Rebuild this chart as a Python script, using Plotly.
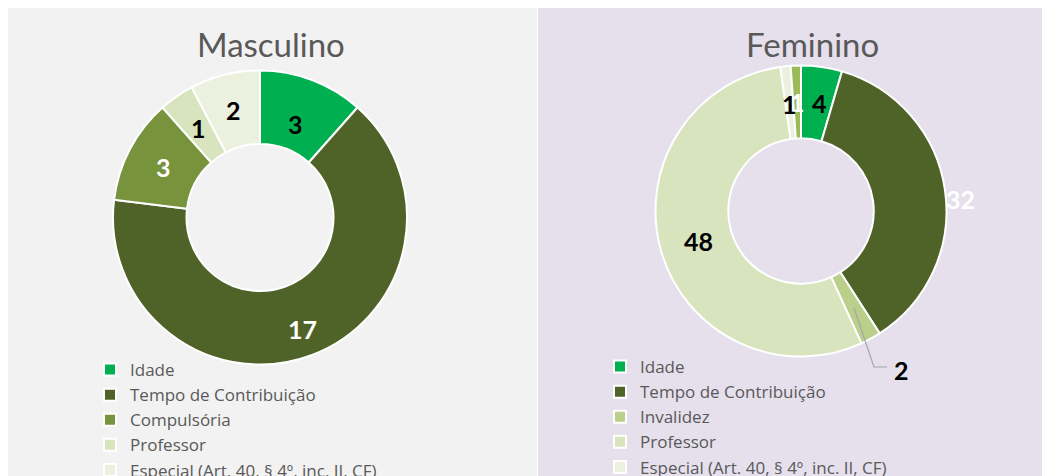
import math
import plotly.graph_objects as go

W, H = 1050, 476
OFF = 8  # page offset of the figure inside the browser window

# ---- data ----
masc_labels = ["Idade", "Tempo de Contribuição", "Compulsória", "Professor",
               "Especial (Art. 40, § 4º, inc. II, CF)"]
masc_values = [3, 17, 3, 1, 2]

fem_labels = ["Idade", "Tempo de Contribuição", "Invalidez", "Professor",
              "Especial (Art. 40, § 4º, inc. II, CF)", "Compulsória"]
fem_values = [4, 32, 2, 48, 1, 1]

# ---- style ----
masc_colors = ["#00b050", "#4f6228", "#77933c", "#d7e4bd", "#ebf1de"]
masc_text_colors = ["black", "white", "white", "black", "black"]
masc_label_r = [0.68, 0.81, 0.74, 0.74, 0.75]

fem_colors = ["#00b050", "#4f6228", "#b9cf8a", "#d7e4bd", "#ebf1de", "#9bbb59"]
fem_text_colors = ["black", "white", "black", "black", "black", "white"]
fem_label_r = [0.75, 1.10, None, 0.735, 0.74, 0.75]
fem_label_da = [1.5, 4.0, 0, 0, 0, 0]  # small angular nudges (degrees)

FONT = "Lato"
LEG_FONT = "Open Sans"
GREY = "#595959"

M_CX, M_CY, M_R = 260, 217.5, 147
F_CX, F_CY, F_R = 801, 211, 145.5


def px(X):
    return (X - OFF) / W


def py(Y):
    return 1 - (Y - OFF) / H


def domain(cx, cy, r):
    return dict(x=[px(cx - r), px(cx + r)], y=[py(cy + r), py(cy - r)])


def mid_angles(values):
    tot = sum(values)
    cum = 0
    out = []
    for v in values:
        out.append((cum + v / 2) / tot * 2 * math.pi)
        cum += v
    return out


def polar(cx, cy, rr, a):
    return cx + rr * math.sin(a), cy - rr * math.cos(a)


# make legend entries of the second pie distinct from the first one
fem_legend_labels = [lab + "\u200b" for lab in fem_labels]

fig = go.Figure()

fig.add_trace(go.Pie(
    labels=masc_labels, values=masc_values, hole=0.5, sort=False,
    direction="clockwise", rotation=0, textinfo="none", hoverinfo="label+value",
    marker=dict(colors=masc_colors, line=dict(color="white", width=2)),
    domain=domain(M_CX, M_CY, M_R), legend="legend", showlegend=True,
))
fig.add_trace(go.Pie(
    labels=fem_legend_labels, values=fem_values, hole=0.5, sort=False,
    direction="clockwise", rotation=0, textinfo="none", hoverinfo="label+value",
    marker=dict(colors=fem_colors, line=dict(color="white", width=2)),
    domain=domain(F_CX, F_CY, F_R), legend="legend2", showlegend=True,
))

annotations = []
label_font = dict(family=FONT, size=25)


def add_label(X, Y, text, color):
    annotations.append(dict(x=px(X), y=py(Y), xref="paper", yref="paper", text=text,
                            showarrow=False, xanchor="center", yanchor="middle",
                            font=dict(label_font, color=color)))


for v, a, c, f in zip(masc_values, mid_angles(masc_values), masc_text_colors, masc_label_r):
    X, Y = polar(M_CX, M_CY, M_R * f, a)
    add_label(X, Y, f"<b>{v}</b>", c)

fem_mids = mid_angles(fem_values)
for i in [5, 0, 1, 3, 4]:
    a = fem_mids[i] + math.radians(fem_label_da[i])
    X, Y = polar(F_CX, F_CY, F_R * fem_label_r[i], a)
    add_label(X, Y, f"<b>{fem_values[i]}</b>", fem_text_colors[i])

# leader-line label for the small "Invalidez" slice
sX, sY = polar(F_CX, F_CY, F_R * 0.76, fem_mids[2])
bX, bY = sX + 20, 367
eX, eY = bX + 13, bY
path = f"M {px(sX)},{py(sY)} L {px(bX)},{py(bY)} L {px(eX)},{py(eY)}"
add_label(eX + 15, 370, f"<b>{fem_values[2]}</b>", "black")

shapes = [
    dict(type="rect", xref="paper", yref="paper", x0=px(8), x1=px(537), y0=0, y1=py(8),
         fillcolor="#f2f2f2", line=dict(width=0), layer="below"),
    dict(type="rect", xref="paper", yref="paper", x0=px(538), x1=1, y0=0, y1=py(8),
         fillcolor="#e5e0ec", line=dict(width=0), layer="below"),
    dict(type="path", xref="paper", yref="paper", path=path,
         line=dict(color="#a6a6a6", width=1.2), layer="above"),
]

# titles
for X, t in [(271, "Masculino"), (812, "Feminino")]:
    annotations.append(dict(x=px(X), y=py(44), xref="paper", yref="paper", text=t,
                            showarrow=False, xanchor="center", yanchor="middle",
                            font=dict(family=FONT, size=33, color=GREY)))

legend_common = dict(font=dict(family=LEG_FONT, size=17, color=GREY), bgcolor="rgba(0,0,0,0)",
                     xanchor="left", yanchor="top", orientation="v", traceorder="normal",
                     itemclick=False, itemdoubleclick=False)

fig.update_layout(
    width=W, height=H,
    margin=dict(l=0, r=0, t=0, b=0, autoexpand=False),
    paper_bgcolor="white", plot_bgcolor="white",
    shapes=shapes, annotations=annotations,
    legend=dict(legend_common, x=px(90), y=py(352)),
    legend2=dict(legend_common, x=px(600), y=py(349)),
)

fig.write_html("out.html")
